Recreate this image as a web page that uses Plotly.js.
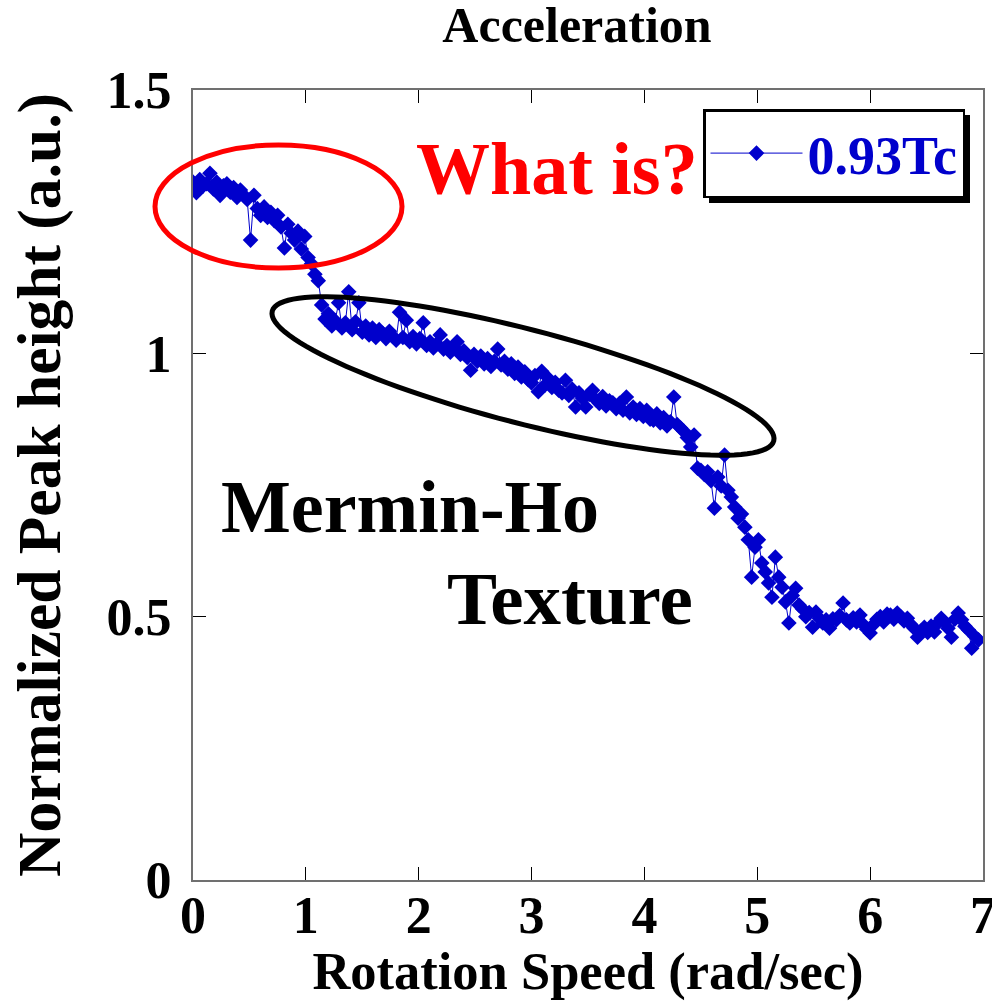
<!DOCTYPE html>
<html>
<head>
<meta charset="utf-8">
<script src="https://cdn.plot.ly/plotly-3.0.1.min.js"></script>
<style>html,body{margin:0;padding:0;background:#fff;}#chart{width:992px;height:1001px;}</style>
</head>
<body>
<div id="chart"></div>
<script>
// Rotation speed (rad/sec)
const speed = [
0.00,0.03,0.06,0.09,0.12,0.15,0.18,0.21,0.24,0.27,
0.30,0.33,0.36,0.39,0.42,0.45,0.48,0.51,0.54,0.57,
0.60,0.63,0.66,0.69,0.72,0.75,0.78,0.81,0.84,0.87,
0.90,0.93,0.96,0.99,1.02,1.05,1.08,1.11,1.14,1.17,
1.20,1.23,1.26,1.29,1.32,1.35,1.38,1.41,1.44,1.47,
1.50,1.53,1.56,1.59,1.62,1.65,1.68,1.71,1.74,1.77,
1.80,1.83,1.86,1.89,1.92,1.95,1.98,2.01,2.04,2.07,
2.10,2.13,2.16,2.19,2.22,2.25,2.28,2.31,2.34,2.37,
2.40,2.43,2.46,2.49,2.52,2.55,2.58,2.61,2.64,2.67,
2.70,2.73,2.76,2.79,2.82,2.85,2.88,2.91,2.94,2.97,
3.00,3.03,3.06,3.09,3.12,3.15,3.18,3.21,3.24,3.27,
3.30,3.33,3.36,3.39,3.42,3.45,3.48,3.51,3.54,3.57,
3.60,3.63,3.66,3.69,3.72,3.75,3.78,3.81,3.84,3.87,
3.90,3.93,3.96,3.99,4.02,4.05,4.08,4.11,4.14,4.17,
4.20,4.23,4.26,4.29,4.32,4.35,4.38,4.41,4.44,4.47,
4.50,4.53,4.56,4.59,4.62,4.65,4.68,4.71,4.74,4.77,
4.80,4.83,4.86,4.89,4.92,4.95,4.98,5.01,5.04,5.07,
5.10,5.13,5.16,5.19,5.22,5.25,5.28,5.31,5.34,5.37,
5.40,5.43,5.46,5.49,5.52,5.55,5.58,5.61,5.64,5.67,
5.70,5.73,5.76,5.79,5.82,5.85,5.88,5.91,5.94,5.97,
6.00,6.03,6.06,6.09,6.12,6.15,6.18,6.21,6.24,6.27,
6.30,6.33,6.36,6.39,6.42,6.45,6.48,6.51,6.54,6.57,
6.60,6.63,6.66,6.69,6.72,6.75,6.78,6.81,6.84,6.87,
6.90,6.93,6.96
];
// Normalized peak height (a.u.), series 0.93Tc
const peak093Tc = [
1.325,1.305,1.330,1.318,1.322,1.342,1.312,1.325,1.300,1.318,
1.322,1.306,1.315,1.296,1.310,1.300,1.292,1.215,1.300,1.275,
1.262,1.278,1.258,1.268,1.252,1.262,1.240,1.200,1.245,1.228,
1.215,1.232,1.198,1.222,1.182,1.170,1.150,1.138,1.092,1.065,
1.075,1.052,1.062,1.096,1.048,1.058,1.117,1.045,1.060,1.096,
1.040,1.052,1.035,1.048,1.030,1.045,1.038,1.028,1.042,1.032,
1.025,1.078,1.030,1.063,1.022,1.032,1.018,1.028,1.058,1.015,
1.022,1.010,1.018,1.035,1.008,1.015,1.002,1.012,1.022,0.998,
1.005,0.992,0.968,0.998,0.985,0.995,0.980,0.990,0.975,0.985,
1.008,0.978,0.985,0.970,0.980,0.962,0.974,0.955,0.965,0.950,
0.944,0.958,0.927,0.966,0.940,0.952,0.935,0.945,0.930,0.925,
0.949,0.920,0.932,0.898,0.925,0.915,0.898,0.922,0.930,0.912,
0.905,0.918,0.900,0.910,0.906,0.895,0.905,0.892,0.917,0.887,
0.898,0.884,0.895,0.880,0.892,0.875,0.873,0.885,0.868,0.878,
0.862,0.870,0.917,0.865,0.858,0.852,0.840,0.822,0.845,0.782,
0.778,0.770,0.775,0.758,0.706,0.765,0.748,0.807,0.740,0.727,
0.708,0.687,0.695,0.670,0.646,0.575,0.632,0.646,0.602,0.585,
0.564,0.537,0.613,0.575,0.556,0.528,0.488,0.540,0.554,0.522,
0.515,0.500,0.508,0.480,0.509,0.497,0.488,0.494,0.478,0.496,
0.494,0.502,0.526,0.494,0.488,0.498,0.490,0.503,0.485,0.476,
0.469,0.485,0.495,0.500,0.490,0.505,0.503,0.495,0.507,0.500,
0.492,0.497,0.485,0.478,0.461,0.472,0.480,0.470,0.482,0.471,
0.488,0.497,0.490,0.478,0.461,0.495,0.507,0.494,0.482,0.475,
0.440,0.462,0.456
];
const seriesName = "0.93Tc";
const xTickVals = [0,1,2,3,4,5,6,7];
const xTickText = ["0","1","2","3","4","5","6","7"];
const yTickVals = [0,0.5,1,1.5];
const yTickText = ["0","0.5","1","1.5"];

const SERIF = '"Liberation Serif","Times New Roman",Times,serif';
const BLUE = '#0000CC';

// plot-area geometry in pixels (for paper-coordinate helper shapes)
const L = 193, T = 90, W = 790, H = 790;
function px(x){ return (x - L) / W; }
function py(y){ return (T + H - y) / H; }

// tilted ellipse path (annotation shape) in paper coords
function ellipsePath(cx, cy, a, b, deg){
  const th = deg * Math.PI / 180;
  let d = '';
  for (let i = 0; i <= 120; i++){
    const t = 2 * Math.PI * i / 120;
    const X = cx + a * Math.cos(th) * Math.cos(t) - b * Math.sin(th) * Math.sin(t);
    const Y = cy + a * Math.sin(th) * Math.cos(t) + b * Math.cos(th) * Math.sin(t);
    d += (i === 0 ? 'M' : 'L') + px(X).toFixed(5) + ',' + py(Y).toFixed(5);
  }
  return d + 'Z';
}

const trace = {
  x: speed, y: peak093Tc, name: seriesName,
  type: 'scatter', mode: 'lines+markers',
  line: {color: BLUE, width: 1},
  marker: {symbol: 'diamond', size: 12, color: BLUE},
  cliponaxis: true
};

const axisCommon = {
  showgrid: false, zeroline: false,
  showline: true, linecolor: '#707070', linewidth: 2,
  mirror: 'ticks', ticks: 'inside', ticklen: 13, tickwidth: 1.2, tickcolor: '#000',
  ticklabeloverflow: 'allow',
  tickfont: {family: SERIF, size: 52, color: '#000', weight: 'bold'}
};

const layout = {
  width: 992, height: 1001,
  margin: {l: L, r: 992 - L - W, t: T, b: 1001 - T - H, pad: 0},
  paper_bgcolor: '#fff', plot_bgcolor: '#fff',
  showlegend: true,
  title: {
    text: 'Acceleration',
    font: {family: SERIF, size: 50, color: '#000', weight: 'bold'},
    x: 577 / 992, xref: 'container', xanchor: 'center',
    y: 1 - 24 / 1001, yref: 'container', yanchor: 'middle'
  },
  xaxis: Object.assign({}, axisCommon, {
    range: [0, 7], tickvals: xTickVals, ticktext: xTickText,
    ticklabelstandoff: -11,
    title: {text: 'Rotation Speed (rad/sec)', standoff: 13,
      font: {family: SERIF, size: 52.5, color: '#000', weight: 'bold'}}
  }),
  yaxis: Object.assign({}, axisCommon, {
    range: [0, 1.5], tickvals: yTickVals, ticktext: yTickText,
    ticklabelstandoff: 9,
    title: {text: 'Normalized Peak height (a.u.)', standoff: 26,
      font: {family: SERIF, size: 61.5, color: '#000', weight: 'bold'}}
  }),
  legend: {
    x: px(703), y: py(109), xanchor: 'left', yanchor: 'top',
    xref: 'paper', yref: 'paper',
    bgcolor: '#fff', bordercolor: '#000', borderwidth: 2.5,
    itemwidth: 92,
    font: {family: SERIF, size: 54, color: BLUE, weight: 'bold'}
  },
  shapes: [
    {type: 'rect', xref: 'paper', yref: 'paper', layer: 'above',
     x0: px(709), x1: px(970), y0: py(203), y1: py(115),
     fillcolor: '#000', line: {width: 0}},
    {type: 'circle', xref: 'paper', yref: 'paper', layer: 'above',
     x0: px(155), x1: px(402), y0: py(268), y1: py(145),
     line: {color: '#FF0000', width: 5}},
    {type: 'path', xref: 'paper', yref: 'paper', layer: 'above',
     path: ellipsePath(523, 376, 259, 47, 14.5),
     line: {color: '#000', width: 5}}
  ],
  annotations: [
    {text: 'What is?', xref: 'paper', yref: 'paper', x: px(557), y: py(169),
     xanchor: 'center', yanchor: 'middle', showarrow: false,
     font: {family: SERIF, size: 74, color: '#FF0000', weight: 'bold'}},
    {text: 'Mermin-Ho', xref: 'paper', yref: 'paper', x: px(410), y: py(507),
     xanchor: 'center', yanchor: 'middle', showarrow: false,
     font: {family: SERIF, size: 74, color: '#000', weight: 'bold'}},
    {text: 'Texture', xref: 'paper', yref: 'paper', x: px(570), y: py(598),
     xanchor: 'center', yanchor: 'middle', showarrow: false,
     font: {family: SERIF, size: 75, color: '#000', weight: 'bold'}}
  ]
};

Plotly.newPlot('chart', [trace], layout, {staticPlot: true, displayModeBar: false});
</script>
</body>
</html>
